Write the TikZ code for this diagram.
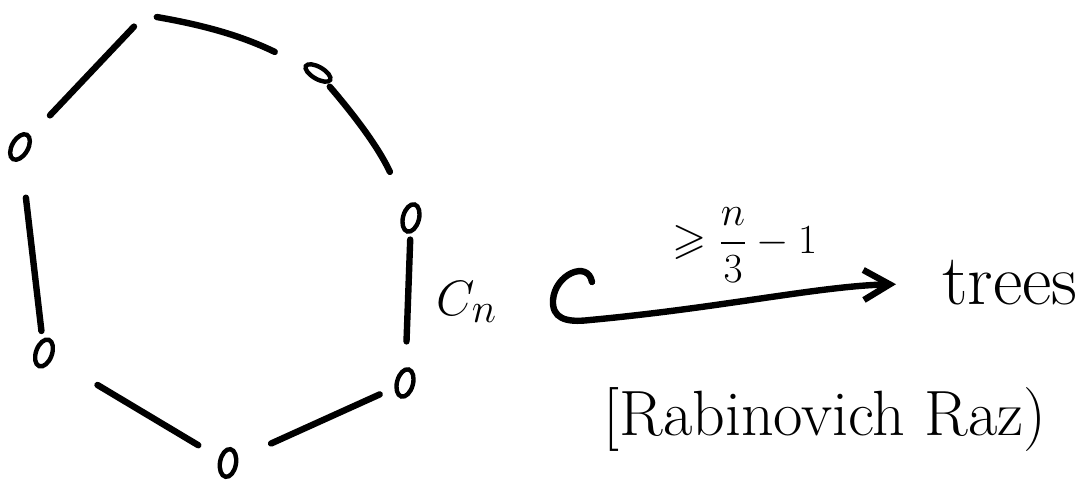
\documentclass[tikz,border=0pt]{standalone}
\usepackage{amssymb}
\usetikzlibrary{arrows.meta,positioning,shapes.geometric}
\tikzset{
  stroke/.style={line width=3.2pt, line cap=round},
  vtx/.style={ellipse, draw, line width=2.2pt, minimum width=8pt, minimum height=14pt, inner sep=0pt},
  hand/.style={font=\fontsize{30}{36}\selectfont, inner sep=0pt},
}
\begin{document}
\begin{tikzpicture}[x=0.5pt, y=-0.5pt]
\useasboundingbox (0,0) rectangle (1084,480);
% ---- vertices of the cycle (the top one is left out) ----
\node[vtx, rotate=-30] (v1) at (20,147) {};
\node[vtx, rotate=-20] (v2) at (44,353) {};
\node[vtx, rotate=-10] (v3) at (228,463) {};
\node[vtx, rotate=-15] (v4) at (405,383) {};
\node[vtx, rotate=-15] (v5) at (411,218) {};
\node[vtx, rotate=60, minimum width=6pt] (v6) at (318,73) {};
\coordinate (top) at (145,15);
% ---- edges, with gaps at the ends ----
\draw[stroke, shorten <=14pt, shorten >=8pt] (v1) -- (top);
\draw[stroke, shorten <=6pt, shorten >=16pt] (top) to[bend left=8] (v6);
\draw[stroke, shorten <=2pt, shorten >=19pt] (v6) to[bend left=8] (v5);
\draw[stroke, shorten <=3pt, shorten >=13pt] (v5) -- (v4);
\draw[stroke, shorten <=8pt, shorten >=18pt] (v4) -- (v3);
\draw[stroke, shorten <=12pt, shorten >=26pt] (v3) -- (v2);
\draw[stroke, shorten <=4pt, shorten >=19pt] (v2) -- (v1);
% ---- the embedding into trees ----
\node[hand] (cn) at (467,302) {$C_n$};
\node[hand, font=\fontsize{36}{42}\selectfont, anchor=base west] (trees) at (942,305) {trees};
\coordinate (hook) at (592,282);
\draw[stroke, -{Straight Barb[length=13pt, width=15pt]}, shorten >=23pt]
  (hook) .. controls (588,260) and (555,274) .. (553,300)
  .. controls (552,318) and (565,323) .. (590,320)
  .. controls (720,308) and (820,286) .. (trees.west);
\node[hand, font=\fontsize{22}{26}\selectfont] (dist) at (745,245) {$\displaystyle\geqslant\frac{n}{3}-1$};
\node[hand, font=\fontsize{32}{38}\selectfont] (ref) at (825,420) {[Rabinovich Raz)};
\end{tikzpicture}
\end{document}
